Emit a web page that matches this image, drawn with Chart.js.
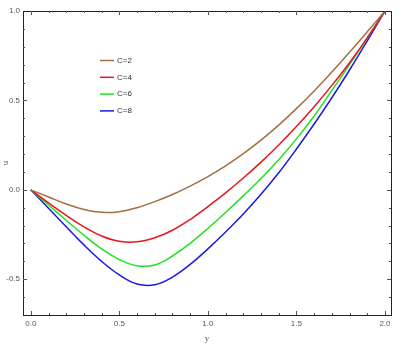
<!DOCTYPE html>
<html>
<head>
<meta charset="utf-8">
<script src="https://cdn.jsdelivr.net/npm/chart.js@4.4.1/dist/chart.umd.min.js"></script>
<style>
  html, body { margin: 0; padding: 0; background: #fff; }
  #wrap { width: 399px; height: 344px; }
</style>
</head>
<body>
<div id="wrap"><canvas id="chart-area" width="399" height="344"></canvas></div>
<script>

// y positions (horizontal axis)
const yPos = [0, 0.1, 0.2, 0.3, 0.4, 0.5, 0.6, 0.7, 0.8, 0.9, 1.0, 1.1, 1.2, 1.3, 1.4, 1.5, 1.6, 1.7, 1.8, 1.9, 2.0]

// u values for each C
const uC2 = [0, -0.040, -0.079, -0.110, -0.126, -0.122, -0.100, -0.066, -0.026, 0.021, 0.074, 0.134, 0.202, 0.278, 0.362, 0.454, 0.553, 0.659, 0.770, 0.884, 1.0]
const uC4 = [0, -0.073, -0.143, -0.207, -0.258, -0.288, -0.291, -0.268, -0.226, -0.166, -0.094, -0.017, 0.066, 0.155, 0.251, 0.354, 0.465, 0.584, 0.711, 0.850, 1.0]
const uC6 = [0, -0.085, -0.170, -0.254, -0.330, -0.390, -0.425, -0.420, -0.370, -0.299, -0.216, -0.127, -0.034, 0.063, 0.168, 0.285, 0.413, 0.555, 0.700, 0.850, 1.0]
const uC8 = [0, -0.103, -0.206, -0.308, -0.400, -0.476, -0.527, -0.531, -0.488, -0.417, -0.330, -0.236, -0.135, -0.025, 0.095, 0.228, 0.368, 0.515, 0.670, 0.833, 1.0]

const seriesLabels = ['C=2', 'C=4', 'C=6', 'C=8']
const seriesColors = ['#A0703F', '#E8161B', '#22E022', '#1A1AE0']

const xTicks = [0, 0.5, 1.0, 1.5, 2.0]
const yTicks = [-0.5, 0, 0.5, 1.0]

const toPoints = arr => arr.map((u, i) => ({x: yPos[i], y: u}))

/*=============================================
FRAME + INWARD TICKS
=============================================*/

const framePlugin = {
    id: 'frame',
    afterDraw: (chart) => {
        const ctx = chart.ctx
        const a = chart.chartArea
        const xs = chart.scales.x
        const ys = chart.scales.y
        ctx.save()
        ctx.strokeStyle = '#222'
        ctx.lineWidth = 1
        ctx.strokeRect(Math.round(a.left) + 0.5, Math.round(a.top) + 0.5, Math.round(a.right - a.left), Math.round(a.bottom - a.top))
        ctx.strokeStyle = '#555'
        ctx.beginPath()
        for (let i = 0; i <= 20; i++) {
            let v = i / 10
            let len = (i % 5 == 0) ? 4 : 2
            let px = Math.round(xs.getPixelForValue(v)) + 0.5
            ctx.moveTo(px, a.bottom); ctx.lineTo(px, a.bottom - len)
            ctx.moveTo(px, a.top); ctx.lineTo(px, a.top + len)
        }
        for (let i = -6; i <= 9; i++) {
            let v = i / 10
            let len = (i % 5 == 0) ? 4 : 2
            let py = Math.round(ys.getPixelForValue(v)) + 0.5
            ctx.moveTo(a.left, py); ctx.lineTo(a.left + len, py)
            ctx.moveTo(a.right, py); ctx.lineTo(a.right - len, py)
        }
        ctx.stroke()
        ctx.restore()
    }
}

/*=============================================
LEGEND INSIDE PLOT
=============================================*/

const legendPlugin = {
    id: 'insideLegend',
    afterDraw: (chart) => {
        const ctx = chart.ctx
        ctx.save()
        ctx.font = '8px "Liberation Sans", Arial, sans-serif'
        ctx.textBaseline = 'middle'
        chart.data.datasets.forEach((ds, i) => {
            let y = 60.5 + i * 16.8
            ctx.strokeStyle = ds.borderColor
            ctx.lineWidth = 1.5
            ctx.beginPath()
            ctx.moveTo(100, y); ctx.lineTo(114, y)
            ctx.stroke()
            ctx.fillStyle = '#333'
            ctx.fillText(ds.label, 117, y)
        })
        ctx.restore()
    }
}

const datasets = [uC2, uC4, uC6, uC8].map((arr, i) => ({
    label: seriesLabels[i],
    data: toPoints(arr),
    borderColor: seriesColors[i],
    borderWidth: 1.5,
    pointRadius: 0,
    fill: false,
    tension: 0.4
}))

const tickFont = {family: '"Liberation Sans", Arial, sans-serif', size: 8}

const config = {
    type: 'line',
    data: { datasets },
    options: {
        responsive: false,
        animation: false,
        layout: { padding: {top: 11, right: 8, left: 0, bottom: 0} },
        plugins: { legend: {display: false}, tooltip: {enabled: false} },
        scales: {
            x: {
                type: 'linear',
                min: -0.044,
                max: 2.034,
                grid: {display: false, drawTicks: false},
                border: {display: false},
                afterBuildTicks: s => { s.ticks = xTicks.map(v => ({value: v})) },
                afterFit: s => { s.height = 29 },
                ticks: {
                    font: tickFont,
                    color: '#555',
                    padding: 4,
                    maxRotation: 0,
                    callback: v => v.toFixed(1)
                },
                title: {
                    display: true,
                    text: 'y',
                    color: '#555',
                    font: {family: '"Liberation Serif", serif', size: 9},
                    padding: 0
                }
            },
            y: {
                min: -0.70,
                max: 1.0,
                grid: {display: false, drawTicks: false},
                border: {display: false},
                afterBuildTicks: s => { s.ticks = yTicks.map(v => ({value: v})) },
                afterFit: s => { s.width = 23 },
                ticks: {
                    font: tickFont,
                    color: '#555',
                    padding: 3,
                    callback: v => v.toFixed(1)
                },
                title: {
                    display: true,
                    text: 'u',
                    color: '#555',
                    font: {family: '"Liberation Serif", serif', size: 9},
                    padding: 0
                }
            }
        }
    },
    plugins: [framePlugin, legendPlugin]
}

const ctx = document.getElementById('chart-area').getContext('2d')
window.myLine = new Chart(ctx, config)

</script>
</body>
</html>
